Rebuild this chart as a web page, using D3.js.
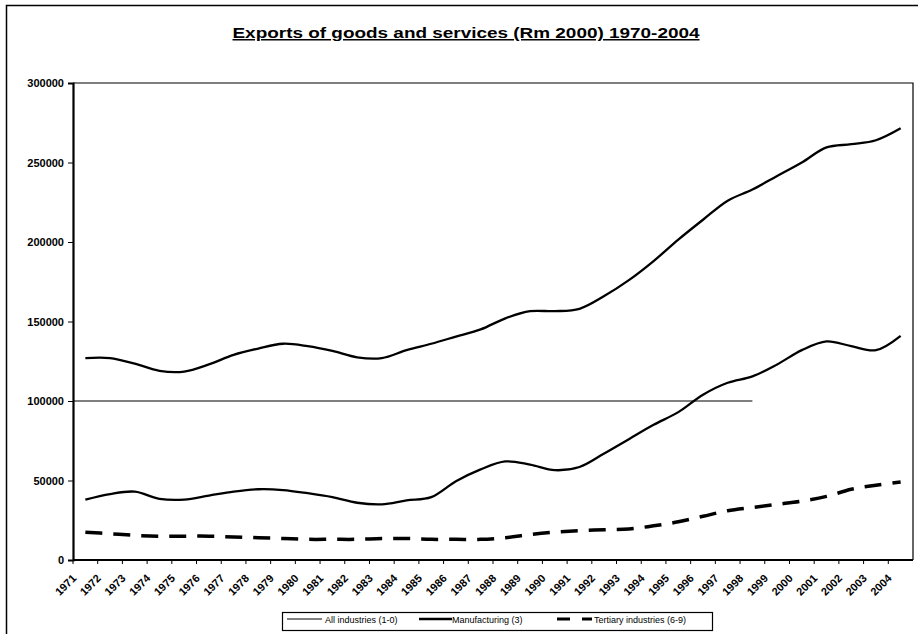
<!DOCTYPE html>
<html>
<head>
<meta charset="utf-8">
<script src="https://cdn.jsdelivr.net/npm/d3@7"></script>
<style>
  body { margin: 0; background: #fff; }
  svg { font-family: Arial, "Liberation Sans", sans-serif; }
</style>
</head>
<body>
<svg id="chart" width="918" height="634"></svg>
<script>
// years on the category axis
var years = ["1971","1972","1973","1974","1975","1976","1977","1978","1979","1980",
  "1981","1982","1983","1984","1985","1986","1987","1988","1989","1990",
  "1991","1992","1993","1994","1995","1996","1997","1998","1999","2000",
  "2001","2002","2003","2004"];

// Rm 2000
var allIndustries = [127000,127000,123500,119000,118500,123000,129000,133000,136000,134500,
  131500,127500,127000,132000,136000,140500,145000,152000,156500,156500,
  158000,166000,176000,188000,201500,214000,226000,233000,241500,250000,
  259500,261500,264000,271500];
var manufacturing = [38000,41500,43000,38500,38000,40500,43000,44500,44000,42000,
  39500,36000,35000,37500,39500,49500,57000,62000,60000,56500,
  58500,67000,76000,85000,93000,104000,111500,115500,123000,132000,
  137500,134500,132000,141000];
var tertiary = [17500,16500,15500,15000,15000,15000,14500,14000,13500,13000,
  13000,13000,13500,13500,13000,13000,13000,14000,16000,17500,
  18500,19000,19500,21500,24000,27500,31000,33000,35000,37000,
  40000,44500,47000,49000];

var yTicks = [0,50000,100000,150000,200000,250000,300000];
var refLine = 100000;   // the lone horizontal line across the plot
var refLineEnd = "1998";

var svg = d3.select("#chart");
// note: "top" is taken by window.top, so plot edges get their own names
var plotLeft = 73, plotRight = 913, plotTop = 83, plotBottom = 560;

// outer frame of the scanned figure
svg.append("rect")
  .attr("x", 6.5).attr("y", 5.5)
  .attr("width", 920).attr("height", 640)
  .attr("fill", "none").attr("stroke", "#000").attr("stroke-width", 1.5);

// title
svg.append("text")
  .attr("x", 466).attr("y", 38)
  .attr("text-anchor", "middle")
  .attr("font-size", 15).attr("font-weight", "bold")
  .attr("text-decoration", "underline")
  .attr("textLength", 467).attr("lengthAdjust", "spacingAndGlyphs")
  .text("Exports of goods and services (Rm 2000) 1970-2004");

var x = d3.scaleBand().domain(years).range([plotLeft, plotRight]);
var y = d3.scaleLinear().domain([0, 300000]).range([plotBottom, plotTop]);

// plot area border (top and right)
svg.append("path")
  .attr("d", "M" + plotLeft + "," + plotTop + "H" + plotRight + "V" + plotBottom)
  .attr("fill", "none").attr("stroke", "#000").attr("stroke-width", 1.2);

// horizontal line at 100000
svg.append("line")
  .attr("x1", plotLeft).attr("x2", x(refLineEnd) + x.bandwidth() / 2)
  .attr("y1", y(refLine)).attr("y2", y(refLine))
  .attr("stroke", "#000").attr("stroke-width", 1.2);

// y axis
var yAxis = svg.append("g")
  .attr("transform", "translate(" + plotLeft + ",0)")
  .call(d3.axisLeft(y).tickValues(yTicks).tickSize(5).tickPadding(4).tickFormat(d3.format("d")));
yAxis.select(".domain").attr("stroke-width", 2.2);
yAxis.selectAll("text").attr("font-size", 11).attr("font-weight", "bold").attr("fill", "#000")
  .attr("font-family", "Arial, 'Liberation Sans', sans-serif");

// x axis: ticks between categories, labels slanted
var xAxis = svg.append("g")
  .attr("transform", "translate(0," + plotBottom + ")");
xAxis.append("line")
  .attr("x1", plotLeft).attr("x2", plotRight)
  .attr("stroke", "#000").attr("stroke-width", 2.2);
xAxis.selectAll("line.tick")
  .data(years)
  .enter().append("line")
  .attr("class", "tick")
  .attr("x1", function(d) { return x(d); })
  .attr("x2", function(d) { return x(d); })
  .attr("y1", 0).attr("y2", 4)
  .attr("stroke", "#000");
xAxis.selectAll("text")
  .data(years)
  .enter().append("text")
  .attr("text-anchor", "end")
  .attr("font-size", 11).attr("font-weight", "bold")
  .attr("transform", function(d) { return "translate(" + (x(d) + 4) + ",19)rotate(-45)"; })
  .text(function(d) { return d; });

var line = d3.line()
  .x(function(d, i) { return x(years[i]) + x.bandwidth() / 2; })
  .y(function(d) { return y(d); })
  .curve(d3.curveCatmullRom);

svg.append("path").datum(allIndustries)
  .attr("d", line).attr("fill", "none")
  .attr("stroke", "#000").attr("stroke-width", 2.3);

svg.append("path").datum(manufacturing)
  .attr("d", line).attr("fill", "none")
  .attr("stroke", "#000").attr("stroke-width", 2.3);

svg.append("path").datum(tertiary)
  .attr("d", line).attr("fill", "none")
  .attr("stroke", "#000").attr("stroke-width", 3.5)
  .attr("stroke-dasharray", "17,11");

// legend
var legendItems = [
  {name: "All industries (1-0)", width: 1, dash: null, x0: 287, x1: 322, tx: 325},
  {name: "Manufacturing (3)", width: 2.5, dash: null, x0: 419, x1: 452, tx: 452},
  {name: "Tertiary industries (6-9)", width: 3, dash: "13,12", x0: 557, x1: 592, tx: 594}
];
var legend = svg.append("g");
legend.append("rect")
  .attr("x", 282.5).attr("y", 612.5)
  .attr("width", 430).attr("height", 18)
  .attr("fill", "none").attr("stroke", "#000").attr("stroke-width", 1.2);
var item = legend.selectAll("g")
  .data(legendItems)
  .enter().append("g");
item.append("line")
  .attr("x1", function(d) { return d.x0; })
  .attr("x2", function(d) { return d.x1; })
  .attr("y1", 619).attr("y2", 619)
  .attr("stroke", "#000")
  .attr("stroke-width", function(d) { return d.width; })
  .attr("stroke-dasharray", function(d) { return d.dash; });
item.append("text")
  .attr("x", function(d) { return d.tx; })
  .attr("y", 623)
  .attr("font-size", 9)
  .text(function(d) { return d.name; });
</script>
</body>
</html>
